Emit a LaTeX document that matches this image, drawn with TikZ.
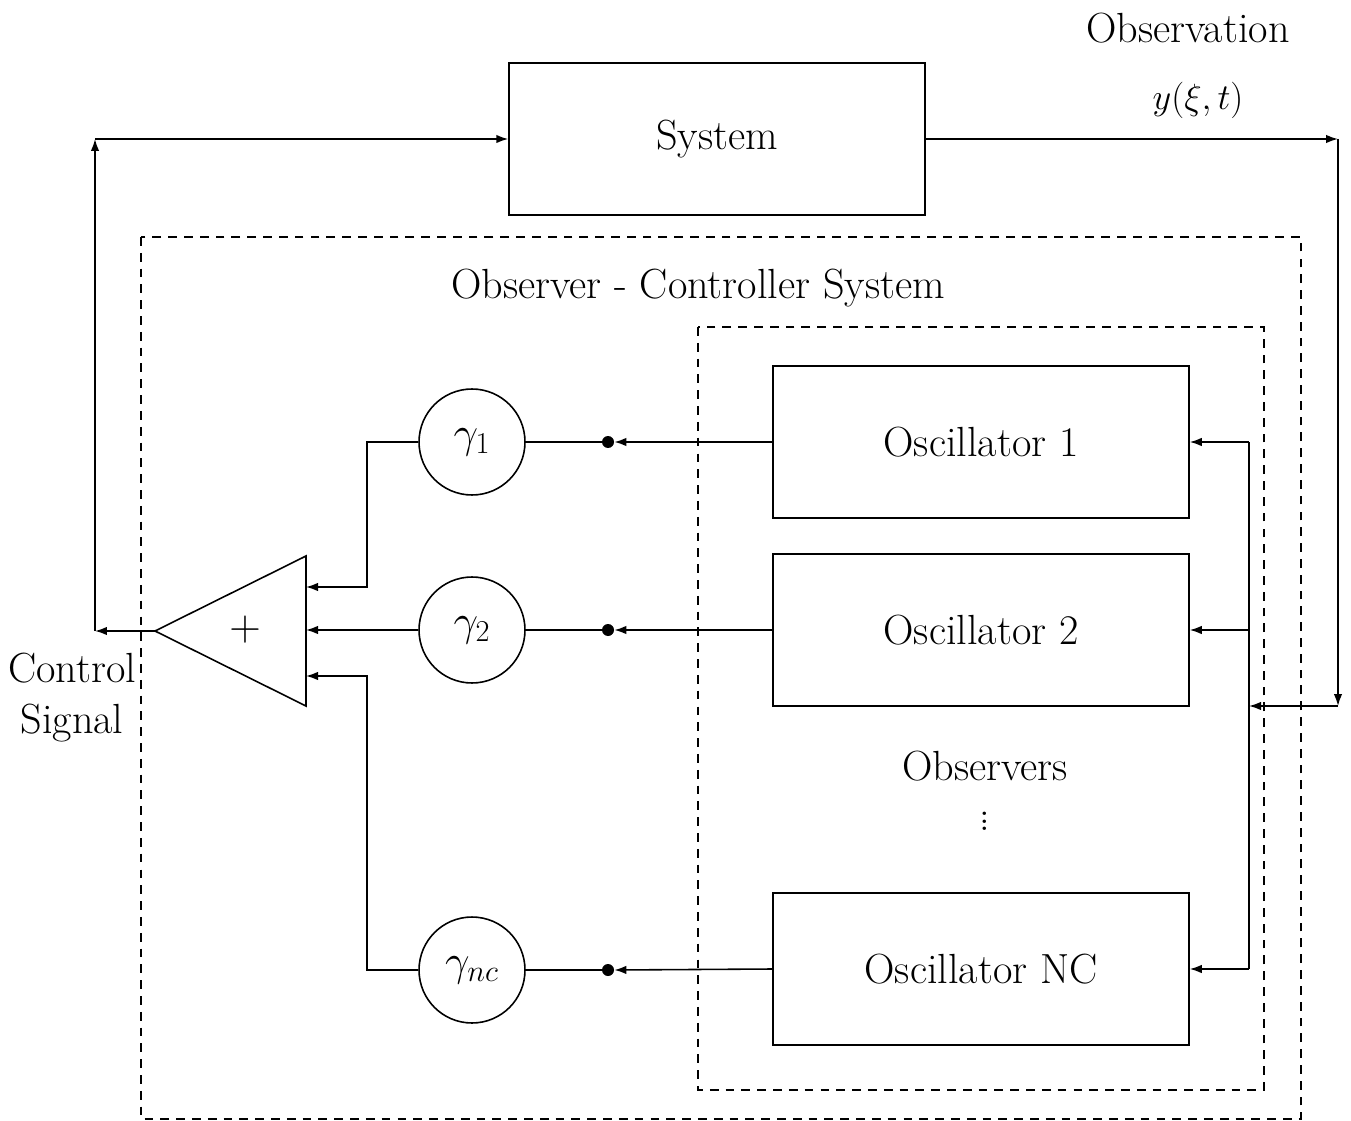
\documentclass[tikz,border=0pt]{standalone}
\usepackage{amsmath}
\usetikzlibrary{arrows.meta}

\tikzset{
  blk/.style = {draw, line width=0.9pt, minimum width=8.32cm, minimum height=3.04cm},
  gain/.style = {draw, circle, line width=0.9pt, minimum size=2.12cm, inner sep=0pt},
  sig/.style = {line width=0.9pt, -{Latex[length=2.4mm,width=1.7mm]}},
  wire/.style = {line width=0.9pt},
  frame/.style = {dashed, line width=0.8pt, dash pattern=on 5pt off 4pt},
  tap/.style = {fill, circle, inner sep=0pt, minimum size=0.24cm}
}

\begin{document}
\begin{tikzpicture}[x=0.02cm, y=-0.02cm, font=\fontsize{24}{29}\selectfont]
\useasboundingbox (0,0) rectangle (1351,1121);
% frames
\draw[frame] (141,237) rectangle (1301,1119);
\draw[frame] (698,327) rectangle (1264,1090);
\node at (698,288) {Observer - Controller System};
\node at (985,766) {Observers};
\node[inner sep=0pt] at (985,816) {$\vdots$};
% plant
\node[blk] (sys) at (717,139) {System};
\node at (1188,28) {Observation};
\node[font=\fontsize{22}{26}\selectfont] at (1198,100) {$y(\xi,t)$};
% oscillators
\node[blk] (osc1) at (981,442) {Oscillator 1};
\node[blk] (osc2) at (981,630) {Oscillator 2};
\node[blk] (oscn) at (981,969) {Oscillator NC};
% gains
\node[gain] (g1) at (472,442) {$\gamma_1$};
\node[gain] (g2) at (472,630) {$\gamma_2$};
\node[gain] (gn) at (472,970) {$\gamma_{nc}$};
\node[tap] (d1) at (608,442) {};
\node[tap] (d2) at (608,630) {};
\node[tap] (dn) at (608,970) {};
% summer
\def\summer{(306,556) -- (155,631) -- (306,706) -- cycle}
\draw[wire] \summer;
\node at (245,630) {$+$};
\coordinate (sumout) at (155,631);
\coordinate (in1) at (306,587);
\coordinate (in2) at (306,630);
\coordinate (inn) at (306,676);
% corners
\coordinate (cl) at (95,631);
\coordinate (ct) at (95,139);
\coordinate (ort) at (1338,139);
\coordinate (orb) at (1338,706);
\coordinate (bus) at (1249,706);
\coordinate (bt) at (1249,442);
\coordinate (bb) at (1249,969);
\node[align=center] (ctrl) at (72,698) {Control\\Signal};
% feedback loop
\draw[sig] (sumout) -- (cl);
\draw[sig] (cl) -- (ct);
\draw[sig] (ct) -- (sys.west);
\draw[sig] (sys.east) -- (ort);
\draw[sig] (ort) -- (orb);
\draw[sig] (orb) -- (bus);
\draw[wire] (bt) -- (bb);
\draw[sig] (bt) -- (osc1.east);
\draw[sig] (bus |- osc2.east) -- (osc2.east);
\draw[sig] (bb) -- (oscn.east);
% observers to gains
\draw[sig] (osc1.west) -- (d1.east);
\draw[sig] (osc2.west) -- (d2.east);
\draw[sig] (oscn.west) -- (dn.east);
\draw[wire] (d1) -- (g1.east);
\draw[wire] (d2) -- (g2.east);
\draw[wire] (dn) -- (gn.east);
% gains to summer
\draw[sig] (g1.west) -| (367,587) -- (in1);
\draw[sig] (g2.west) -- (in2);
\draw[sig] (gn.west) -| (367,676) -- (inn);
\end{tikzpicture}
\end{document}
